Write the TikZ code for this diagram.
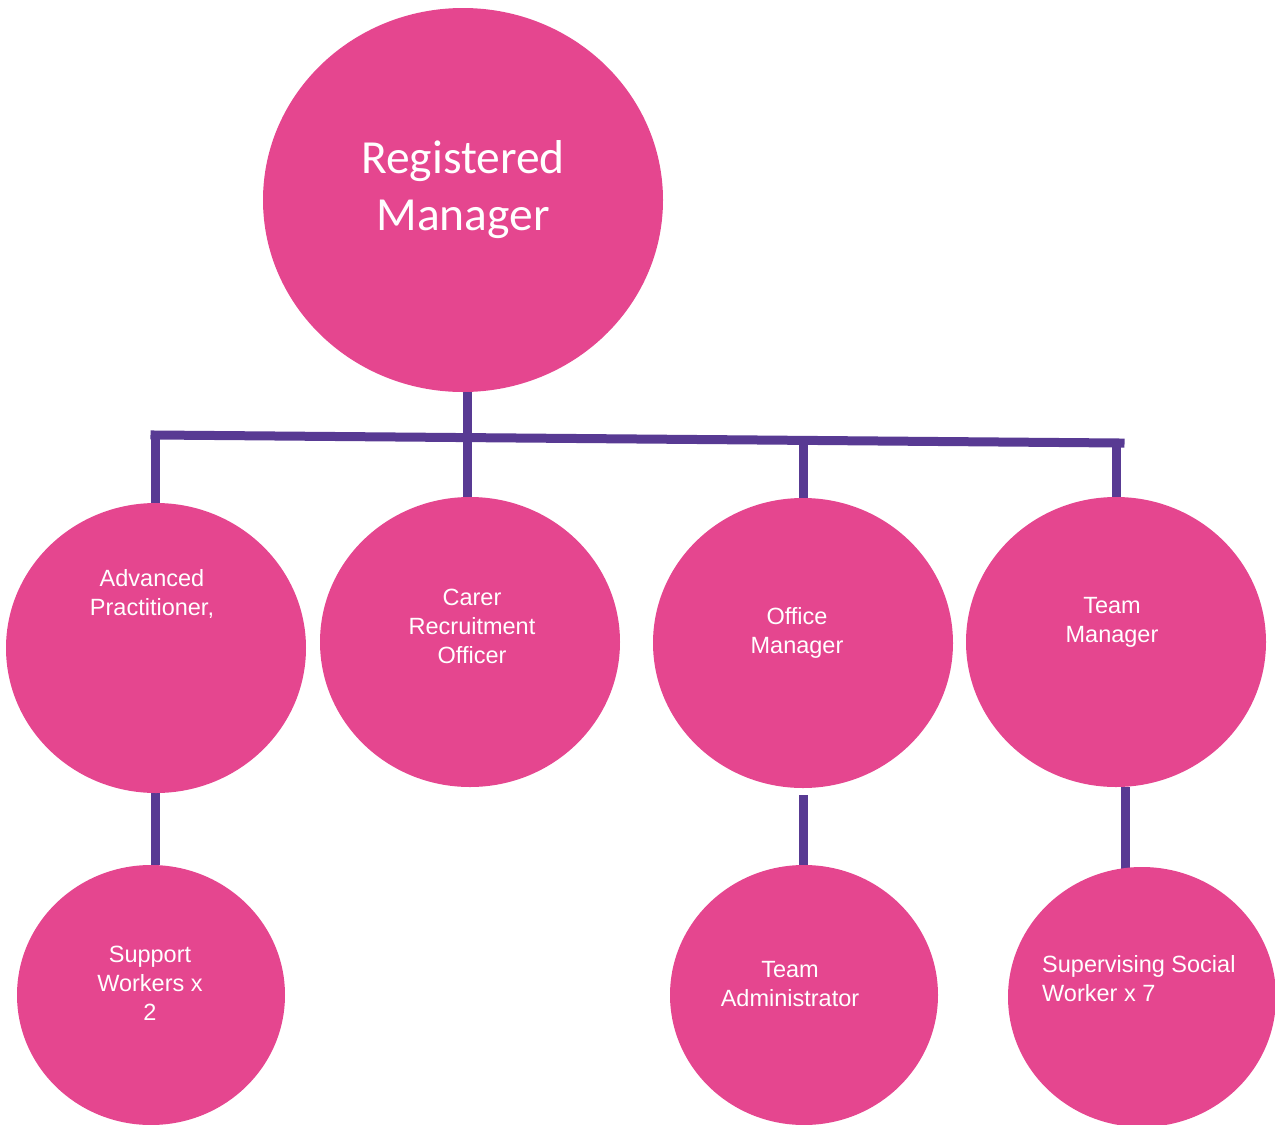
\documentclass[tikz,border=0pt]{standalone}
\usepackage{fontspec}
\setmainfont{Liberation Sans}
\newfontfamily\carlito{Carlito}
\usetikzlibrary{shapes.geometric,backgrounds}
\definecolor{pinkc}{HTML}{E5468F}
\definecolor{purplec}{HTML}{583A93}
\tikzset{
  bub/.style={ellipse, fill=pinkc, inner sep=0pt, draw=none},
  big/.style={bub, minimum width=400pt, minimum height=384pt},
  mid/.style={bub, minimum width=300pt, minimum height=290pt},
  sml/.style={bub, minimum width=268pt, minimum height=260pt},
  lbl/.style={text=white, font=\fontsize{23.5}{29}\selectfont, align=center, inner sep=0pt},
  con/.style={draw=purplec, line width=9pt, line cap=rect},
}
\begin{document}
\begin{tikzpicture}[x=1pt,y=-1pt]
\useasboundingbox (0,0) rectangle (1275,1125);
% bubbles
\node[big] (rm) at (463,200) {};
\node[mid] (ap) at (156,648) {};
\node[mid] (cr) at (470,642) {};
\node[mid] (om) at (803,643) {};
\node[mid] (tm) at (1116,642) {};
\node[sml] (sw) at (151,995) {};
\node[sml] (ta) at (804,995) {};
\node[sml] (ss) at (1142,997) {};
% texts
\node[text=white, font=\carlito\fontsize{47.5}{57}\selectfont, align=center, inner sep=0pt] (trm) at (463,190) {Registered\\Manager};
\node[lbl] (tap) at (152,594) {Advanced\\Practitioner,};
\node[lbl] (tcr) at (472,626) {Carer\\Recruitment\\Officer};
\node[lbl] (tom) at (797,633) {Office\\Manager};
\node[lbl] (ttm) at (1112,622) {Team\\Manager};
\node[lbl] (tsw) at (150,983) {Support\\Workers x\\2};
\node[lbl] (tta) at (790,984) {Team\\Administrator};
\node[lbl, align=left, anchor=west] (tss) at (1042,979) {Supervising Social\\Worker x 7};
% connectors
\coordinate (bl) at (155,435);
\coordinate (bc) at (467,437.6);
\coordinate (bo) at (803,440.5);
\coordinate (br) at (1116,443);
\coordinate (brx) at (1120,443);
\coordinate (rmb) at (467,392);
\coordinate (apt) at (155,503);
\coordinate (crt) at (467,497);
\coordinate (omt) at (803,498);
\coordinate (tmt) at (1116,497);
\coordinate (apb) at (155,793);
\coordinate (swt) at (155,865);
\coordinate (omb) at (803,795);
\coordinate (tat) at (803,865);
\coordinate (tmb) at (1125,787);
\coordinate (sst) at (1125,869);
\begin{scope}[on background layer]
\draw[con] (bl) -- (brx);
\draw[con, line cap=butt] (rmb) -- (bc);
\draw[con, line cap=butt] (bc) -- (crt);
\draw[con] (bl) -- (apt);
\draw[con, line cap=butt] (bo) -- (omt);
\draw[con] (br) -- (tmt);
\draw[con, line cap=butt] (apb) -- (swt);
\draw[con, line cap=butt] (omb) -- (tat);
\draw[con, line cap=butt] (tmb) -- (sst);
\end{scope}
\end{tikzpicture}
\end{document}
